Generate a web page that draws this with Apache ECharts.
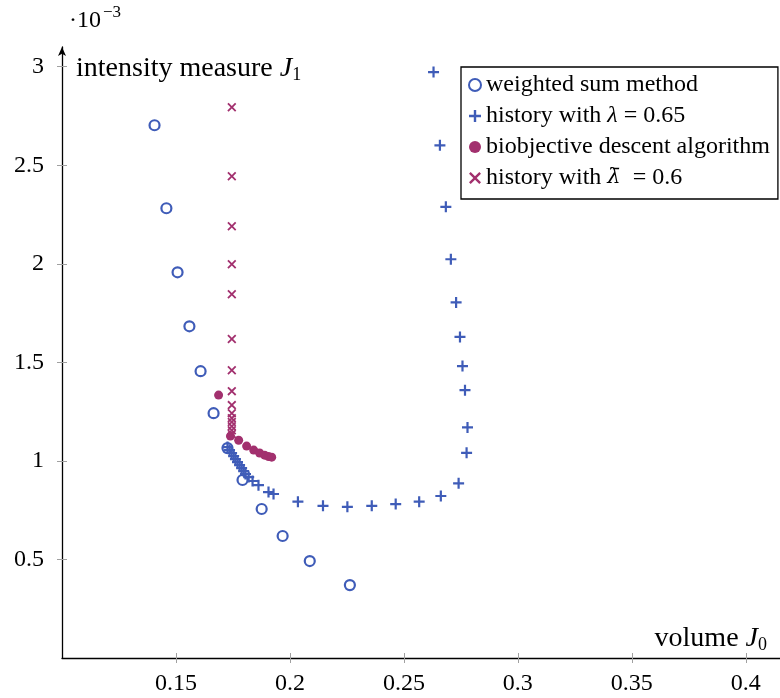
<!DOCTYPE html>
<html>
<head>
<meta charset="utf-8">
<script src="https://cdn.jsdelivr.net/npm/echarts@6/dist/echarts.min.js"></script>
<style>
  html, body { margin: 0; padding: 0; background: #fff; }
  #chart { width: 780px; height: 698px; }
</style>
</head>
<body>
<div id="chart"></div>
<script>
// Volume J0 versus intensity measure J1 (in units of 1e-3)
const xTicks = [0.15, 0.2, 0.25, 0.3, 0.35, 0.4];
const yTicks = [0.5, 1, 1.5, 2, 2.5, 3];

// weighted sum method
const wsX = [0.1406, 0.1458, 0.1507, 0.1559, 0.1608, 0.1665, 0.1726, 0.1792, 0.1876, 0.1968, 0.2087, 0.2263];
const wsY = [2.703, 2.282, 1.957, 1.683, 1.455, 1.242, 1.065, 0.903, 0.756, 0.619, 0.492, 0.370];

// history with lambda = 0.65
const histX = [0.1726, 0.1735, 0.1744, 0.1753, 0.1761, 0.1770, 0.1779, 0.1788, 0.1797, 0.1805, 0.1819, 0.1836,
  0.1862, 0.1906, 0.1928, 0.2035, 0.2145, 0.2252, 0.2359, 0.2464, 0.2567, 0.2662, 0.2740, 0.2775, 0.2779,
  0.2768, 0.2757, 0.2746, 0.2729, 0.2706, 0.2684, 0.2658, 0.2630];
const histY = [1.070, 1.055, 1.040, 1.024, 1.009, 0.994, 0.979, 0.963, 0.948, 0.933, 0.918, 0.898,
  0.877, 0.842, 0.832, 0.793, 0.772, 0.767, 0.772, 0.781, 0.793, 0.822, 0.886, 1.041, 1.170,
  1.359, 1.481, 1.629, 1.804, 2.023, 2.289, 2.601, 2.973];

// biobjective descent algorithm
const bdX = [0.1687, 0.1739, 0.1775, 0.1810, 0.1841, 0.1867, 0.1889, 0.1906, 0.1920];
const bdY = [1.334, 1.126, 1.105, 1.075, 1.055, 1.040, 1.029, 1.022, 1.019];

// history with lambda-bar = 0.6
const hbX = [0.1745, 0.1745, 0.1745, 0.1745, 0.1745, 0.1745, 0.1745, 0.1745, 0.1745, 0.1745, 0.1745, 0.1745, 0.1745, 0.1745, 0.1745];
const hbY = [2.794, 2.444, 2.191, 1.998, 1.846, 1.618, 1.460, 1.354, 1.283, 1.242, 1.217, 1.197, 1.176, 1.156, 1.136];

const BLUE = '#3f5cb8';
const PURPLE = '#a2306e';
const FONT = '"Liberation Serif", "DejaVu Serif", serif';

const pairs = (xs, ys) => xs.map((x, i) => [x, ys[i]]);

const PLUS = 'path://M4,0h2v4h4v2h-4v4h-2v-4h-4v-2h4z';
const CROSS = 'path://M1.4,0L5,3.6L8.6,0L10,1.4L6.4,5L10,8.6L8.6,10L5,6.4L1.4,10L0,8.6L3.6,5L0,1.4z';

const chart = echarts.init(document.getElementById('chart'), null, { renderer: 'canvas' });

// rich-text styles for axis names with italic symbols and subscripts
const labelRich = {
  r: { fontFamily: FONT, fontSize: 28, fontWeight: 'normal', color: '#000', lineHeight: 30, verticalAlign: 'middle' },
  i: { fontFamily: FONT, fontSize: 28, fontWeight: 'normal', fontStyle: 'italic', color: '#000', lineHeight: 30, verticalAlign: 'middle' },
  s: { fontFamily: FONT, fontSize: 18, fontWeight: 'normal', color: '#000', lineHeight: 14, verticalAlign: 'bottom' }
};

chart.setOption({
  animation: false,
  backgroundColor: '#fff',
  textStyle: { fontFamily: FONT, color: '#000' },
  title: [
    {
      // axis scale factor ·10^-3
      text: '·10',
      left: 69, top: 8, padding: 0,
      textStyle: { fontFamily: FONT, fontSize: 24, fontWeight: 'normal', color: '#000', lineHeight: 26 }
    },
    {
      text: '−3',
      left: 103, top: 4, padding: 0,
      textStyle: { fontFamily: FONT, fontSize: 17, fontWeight: 'normal', color: '#000', lineHeight: 18 }
    },
    {
      text: '{r|intensity measure }{i|J}{s|1}',
      left: 71, top: 49,
      textStyle: { fontWeight: 'normal', rich: labelRich }
    },
    {
      text: '{r|volume }{i|J}{s|0}',
      right: 8, top: 619,
      textStyle: { fontWeight: 'normal', rich: labelRich }
    }
  ],
  grid: { left: 62, right: 0, top: 47, bottom: 40, containLabel: false },
  legend: {
    orient: 'vertical',
    left: 461, top: 67,
    padding: [6, 8, 9, 7],
    itemGap: 7,
    itemWidth: 12, itemHeight: 12,
    borderColor: '#000', borderWidth: 1.3,
    backgroundColor: '#fff',
    textStyle: {
      fontFamily: FONT, fontSize: 24, color: '#000', lineHeight: 24,
      rich: {
        i: { fontFamily: FONT, fontSize: 24, fontStyle: 'italic', color: '#000', lineHeight: 24 },
        b: { fontFamily: '"DejaVu Serif", serif', fontSize: 21, fontStyle: 'italic', color: '#000', lineHeight: 24 }
      }
    },
    formatter: function (name) {
      if (name === 'history with λ = 0.65') return 'history with {i|λ} = 0.65';
      if (name === 'history with λ̄ = 0.6') return 'history with {b|λ̄}  = 0.6';
      return name;
    },
    data: ['weighted sum method', 'history with λ = 0.65', 'biobjective descent algorithm', 'history with λ̄ = 0.6']
  },
  xAxis: [
    {
      type: 'value', min: 0.1, max: 0.415, position: 'bottom',
      splitLine: { show: false },
      axisLine: { show: true, lineStyle: { color: '#000', width: 1.3 } },
      axisTick: { show: true, inside: true, length: 5, customValues: xTicks, lineStyle: { color: '#a0a0a0', width: 1 } },
      axisLabel: {
        customValues: xTicks, margin: 14, fontFamily: FONT, fontSize: 24, color: '#000',
        formatter: v => String(+v.toFixed(2))
      }
    },
    {
      type: 'value', min: 0.1, max: 0.415, position: 'bottom',
      splitLine: { show: false },
      axisLine: { show: false },
      axisTick: { show: true, inside: false, length: 5, customValues: xTicks, lineStyle: { color: '#a0a0a0', width: 1 } },
      axisLabel: { show: false }
    }
  ],
  yAxis: [
    {
      type: 'value', min: 0, max: 3.1, position: 'left',
      splitLine: { show: false },
      axisLine: { show: true, symbol: ['none', 'arrow'], symbolSize: [6, 9], lineStyle: { color: '#000', width: 1.3 } },
      axisTick: { show: true, inside: true, length: 5, customValues: yTicks, lineStyle: { color: '#a0a0a0', width: 1 } },
      axisLabel: {
        customValues: yTicks, margin: 18, fontFamily: FONT, fontSize: 24, color: '#000',
        formatter: v => String(+v.toFixed(1))
      }
    },
    {
      type: 'value', min: 0, max: 3.1, position: 'left',
      splitLine: { show: false },
      axisLine: { show: false },
      axisTick: { show: true, inside: false, length: 5, customValues: yTicks, lineStyle: { color: '#a0a0a0', width: 1 } },
      axisLabel: { show: false }
    }
  ],
  series: [
    {
      name: 'weighted sum method', type: 'scatter',
      data: pairs(wsX, wsY),
      symbol: 'circle', symbolSize: 10,
      itemStyle: { color: 'rgba(255,255,255,0)', borderColor: BLUE, borderWidth: 2.2, opacity: 1 }
    },
    {
      name: 'history with λ = 0.65', type: 'scatter',
      data: pairs(histX, histY),
      symbol: PLUS, symbolSize: 11,
      itemStyle: { color: BLUE, opacity: 1 }
    },
    {
      name: 'biobjective descent algorithm', type: 'scatter',
      data: pairs(bdX, bdY),
      symbol: 'circle', symbolSize: 9,
      itemStyle: { color: PURPLE, opacity: 1 }
    },
    {
      name: 'history with λ̄ = 0.6', type: 'scatter',
      data: pairs(hbX, hbY),
      symbol: CROSS, symbolSize: 9,
      itemStyle: { color: PURPLE, opacity: 1 }
    }
  ]
});
</script>
</body>
</html>
